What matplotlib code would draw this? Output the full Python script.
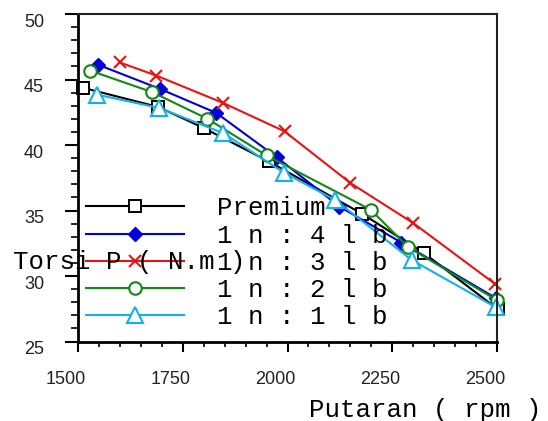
import matplotlib
matplotlib.use("Agg")
from matplotlib import pyplot as plt
from matplotlib.ticker import MultipleLocator
import matplotlib.transforms as mtransforms

# data (rpm, torque N.m)
rpm_premium = [1513, 1692, 1800, 1955, 2178, 2326, 2502]
trq_premium = [44.36, 42.9, 41.3, 38.75, 34.75, 31.74, 27.46]

rpm_4lb = [1547, 1696, 1830, 1975, 2124, 2272, 2498]
trq_4lb = [46.14, 44.28, 42.45, 39.05, 35.3, 32.55, 28.3]

rpm_3lb = [1600, 1687, 1845, 1993, 2150, 2300, 2495]
trq_3lb = [46.3, 45.3, 43.23, 41.04, 37.1, 34.04, 29.4]

rpm_2lb = [1529, 1676, 1809, 1950, 2199, 2288, 2499]
trq_2lb = [45.68, 44.05, 42.0, 39.2, 35.05, 32.2, 28.17]

rpm_1lb = [1545, 1694, 1847, 1991, 2114, 2296, 2498]
trq_1lb = [43.85, 42.83, 40.9, 37.9, 35.8, 31.23, 27.6]

labels = ["Premium", "1 n : 4 l b", "1 n : 3 l b", "1 n : 2 l b", "1 n : 1 l b"]

mono = "Liberation Mono"
sans = "Liberation Sans"

fig = plt.figure(figsize=(5.48, 4.21), dpi=100)
ax = fig.add_axes([0.1423, 0.1888, 0.7647, 0.7779])

lw = 1.5
ax.plot(rpm_premium, trq_premium, color="black", lw=lw, marker="s", ms=9,
        mfc="white", mec="black", mew=1.4, label=labels[0], clip_on=False)
ax.plot(rpm_4lb, trq_4lb, color="#0000dd", lw=lw, marker="D", ms=7,
        mfc="#0000dd", mec="#0000dd", label=labels[1], clip_on=False)
ax.plot(rpm_3lb, trq_3lb, color="#ee1111", lw=lw, marker="x", ms=9,
        mew=1.5, label=labels[2], clip_on=False)
ax.plot(rpm_2lb, trq_2lb, color="#118811", lw=lw, marker="o", ms=9,
        mfc="white", mec="#118811", mew=1.5, label=labels[3], clip_on=False)
ax.plot(rpm_1lb, trq_1lb, color="#11b0ee", lw=lw, marker="^", ms=11,
        mfc="white", mec="#11b0ee", mew=1.5, label=labels[4], clip_on=False)

ax.set_xlim(1500, 2500)
ax.set_ylim(25, 50)
ax.xaxis.set_major_locator(MultipleLocator(250))
ax.xaxis.set_minor_locator(MultipleLocator(50))
ax.yaxis.set_major_locator(MultipleLocator(5))
ax.yaxis.set_minor_locator(MultipleLocator(1))

ax.tick_params(axis="x", which="major", direction="out", length=7, width=1.5, pad=14)
ax.tick_params(axis="x", which="minor", direction="out", length=3.6, width=1.2)
ax.tick_params(axis="y", which="major", direction="out", length=9.4, width=1.5, pad=15)
ax.tick_params(axis="y", which="minor", direction="out", length=5, width=1.2)

for s in ["left", "bottom"]:
    ax.spines[s].set_linewidth(2)
for s in ["top", "right"]:
    ax.spines[s].set_linewidth(1.5)
    ax.spines[s].set_color("#222222")

# tick labels sit a bit off their ticks in the original
dx = mtransforms.ScaledTranslation(-12 / 100, 0, fig.dpi_scale_trans)
dy = mtransforms.ScaledTranslation(0, -6 / 100, fig.dpi_scale_trans)
for lab in ax.get_xticklabels():
    lab.set_fontfamily(sans)
    lab.set_fontsize(13)
    lab.set_color("#222222")
    lab.set_transform(lab.get_transform() + dx)
for lab in ax.get_yticklabels():
    lab.set_fontfamily(sans)
    lab.set_fontsize(13)
    lab.set_color("#222222")
    lab.set_transform(lab.get_transform() + dy)

leg = ax.legend(loc="upper left", bbox_to_anchor=(0.02, 0.443), frameon=False,
                prop={"family": mono, "size": 18.5}, handlelength=3.8,
                handletextpad=1.3, labelspacing=0.12, borderpad=0,
                borderaxespad=0)

fig.text(13 / 548, 1 - 269 / 421, "Torsi P ( N.m )", family=mono, size=18.5,
         va="baseline", ha="left")
fig.text(309 / 548, 1 - 417 / 421, "Putaran ( rpm )", family=mono, size=18.5,
         va="baseline", ha="left")

fig.savefig("out.png", dpi=100)
